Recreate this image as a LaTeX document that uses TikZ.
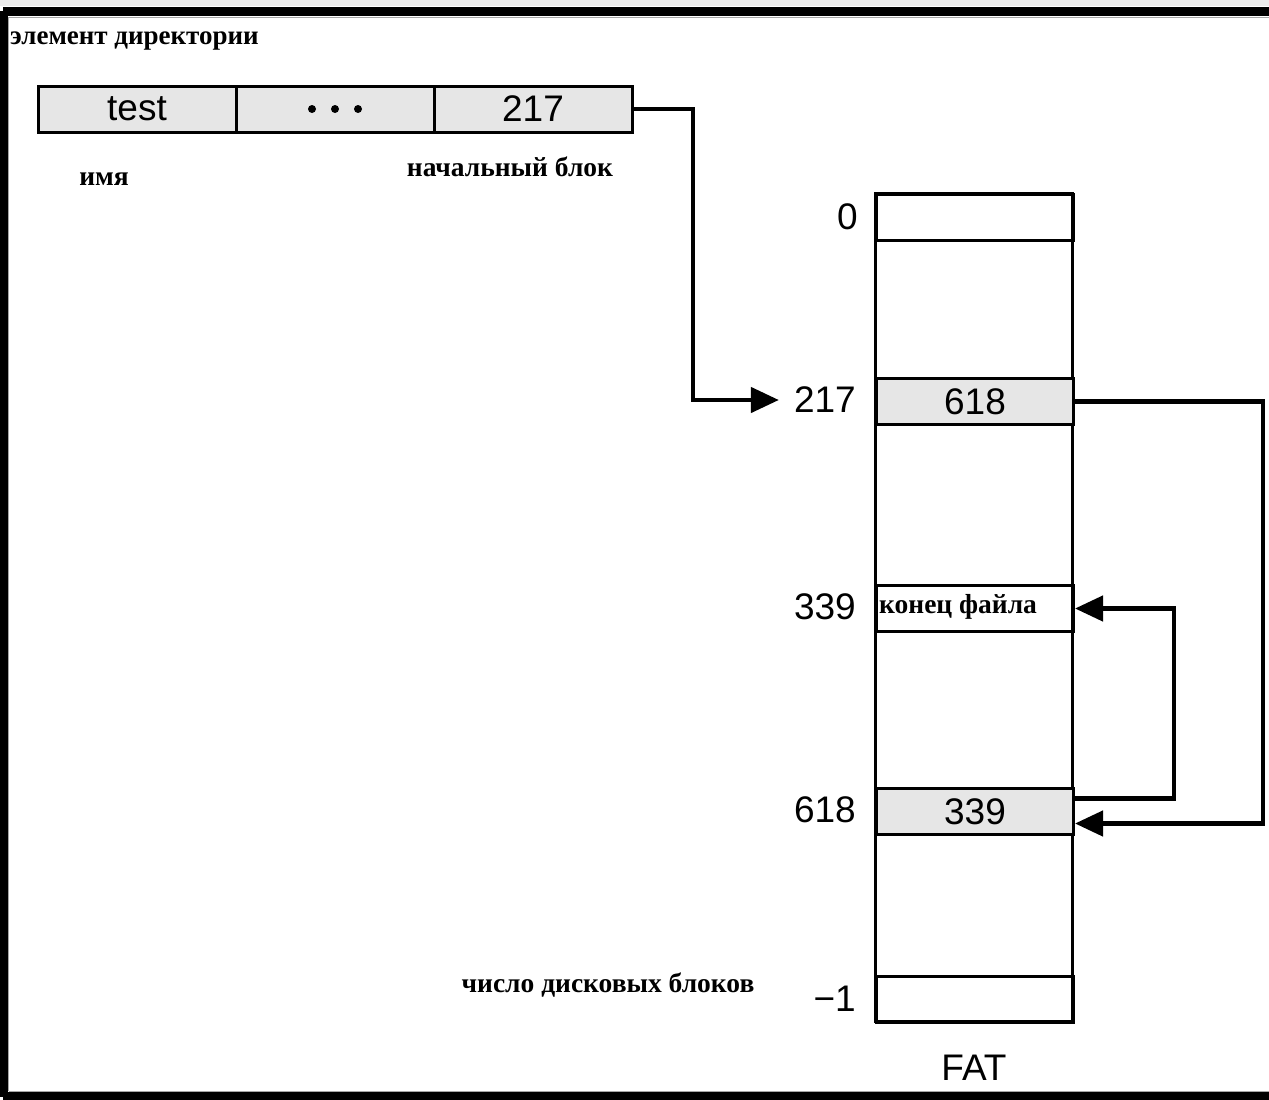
\documentclass[tikz,border=0pt]{standalone}
\usepackage{fontspec}
\setmainfont{Liberation Serif}
\newfontfamily\numfont{Liberation Sans}
\usetikzlibrary{arrows.meta,calc}
\definecolor{cellgray}{HTML}{E6E6E6}
\tikzset{
  cell/.style={draw=black, line width=3pt, inner sep=0pt, minimum width=197pt, minimum height=46pt, font=\numfont\fontsize{37}{42}\selectfont},
  dcell/.style={cell, fill=cellgray, minimum width=198pt},
  numlab/.style={inner sep=0pt, anchor=east, font=\numfont\fontsize{37}{42}\selectfont},
  rulab/.style={inner sep=0pt, font=\bfseries\fontsize{27.5}{32}\selectfont},
  arr/.style={line width=4.5pt, -{Triangle[length=28pt,width=25pt]}},
  dot/.style={fill=black, draw=none}
}
\begin{document}
\begin{tikzpicture}[x=1pt,y=-1pt]
\useasboundingbox (0,0) rectangle (1269,1100);
\fill[white] (0,0) rectangle (1269,1100);
\fill[gray!15] (0,0) rectangle (1269,6);
% frame
\draw[line width=9pt] (3,11) -- (1280,11);
\draw[line width=9pt] (3,11) -- (3,1096.5);
\draw[line width=9pt] (3,1096.5) -- (1280,1096.5);
\draw[gray!70, line width=1pt] (8.5,17) -- (1280,17);
\draw[gray!70, line width=1pt] (8.5,17) -- (8.5,1091);
\draw[gray!70, line width=1pt] (8.5,1091) -- (1280,1091);

% title
\node[rulab, anchor=base west, font=\bfseries\fontsize{27}{32}\selectfont] (title) at (10,44) {элемент директории};

% directory entry
\node[dcell] (d1) at (137,109) {test};
\node[dcell] (d2) at (335,109) {};
\node[dcell] (d3) at (533,109) {217};
\fill[dot] ($(d2.center)+(-23,0)$) circle (4);
\fill[dot] (d2.center) circle (4);
\fill[dot] ($(d2.center)+(23,0)$) circle (4);
\node[rulab, anchor=base] (name) at (104,185) {имя};
\node[rulab, anchor=base] (start) at (510,176) {начальный блок};

% FAT column
\draw[line width=3pt] (875,193) rectangle (1072,1021);
\node[cell, anchor=north west] (f0) at (875,193) {};
\node[cell, fill=cellgray, anchor=north west] (f217) at (875,377) {618};
\node[cell, anchor=north west] (feof) at (875,584) {};
\node[rulab, anchor=base west] (eoftext) at (879,613) {конец файла};
\node[cell, fill=cellgray, anchor=north west] (f618) at (875,787) {339};
\node[cell, anchor=north west] (fm1) at (875,975) {};

% row labels
\node[numlab] (l0) at (858,217) {0};
\node[numlab] (l217) at (856,400) {217};
\node[numlab] (l339) at (856,607) {339};
\node[numlab] (l618) at (856,810) {618};
\node[numlab] (lm1) at (856,999) {−1};
\node[inner sep=0pt, anchor=base, font=\numfont\fontsize{37}{42}\selectfont] (fat) at (974,1080) {FAT};
\node[rulab, anchor=base] (count) at (608,992) {число дисковых блоков};

% turning points
\coordinate (c1) at (693,0);
\coordinate (c2) at (1263,0);
\coordinate (c3) at (1174,0);

% connectors
\draw[arr] (d3.east) -- (d3.east -| c1) |- ($(l217.west)+(-15,0)$);
\draw[arr] (f217.east) -- (f217.east -| c2) |- ($(f618.east)+(0,12)$);
\draw[arr] ($(f618.east)+(0,-13)$) -- ($(f618.east -| c3)+(0,-13)$) |- (feof.east);
\end{tikzpicture}
\end{document}
